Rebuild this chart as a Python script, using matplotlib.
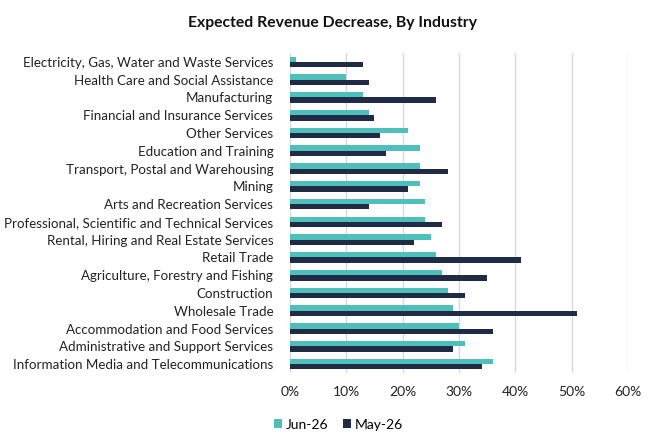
import numpy as np
import matplotlib.pyplot as plt
from matplotlib.ticker import PercentFormatter

plt.rcParams['font.family'] = ['Lato', 'DejaVu Sans']

# categories listed top to bottom as in the chart
industries = [
    'Electricity, Gas, Water and Waste Services',
    'Health Care and Social Assistance',
    'Manufacturing',
    'Financial and Insurance Services',
    'Other Services',
    'Education and Training',
    'Transport, Postal and Warehousing',
    'Mining',
    'Arts and Recreation Services',
    'Professional, Scientific and Technical Services',
    'Rental, Hiring and Real Estate Services',
    'Retail Trade',
    'Agriculture, Forestry and Fishing',
    'Construction',
    'Wholesale Trade',
    'Accommodation and Food Services',
    'Administrative and Support Services',
    'Information Media and Telecommunications',
]
jun26 = [1, 10, 13, 14, 21, 23, 23, 23, 24, 24, 25, 26, 27, 28, 29, 30, 31, 36]
may26 = [13, 14, 26, 15, 16, 17, 28, 21, 14, 27, 22, 41, 35, 31, 51, 36, 29, 34]

teal = '#4FBFBC'
navy = '#202B45'

fig = plt.figure(figsize=(6.58, 4.47), dpi=100)
ax = fig.add_axes([0.4407, 0.1655, 0.5137, 0.716])

n = len(industries)
y = np.arange(n)[::-1]
h = 0.3
ax.barh(y + h / 2, jun26, height=h, color=teal, label='Jun-26', zorder=3)
ax.barh(y - h / 2, may26, height=h, color=navy, label='May-26', zorder=3)

ax.set_yticks(y)
ax.set_yticklabels(industries, fontsize=9.6, color='#222222')
ax.set_ylim(-0.5, n - 0.5)
ax.set_xlim(0, 60)
ax.set_xticks(np.arange(0, 61, 10))
ax.xaxis.set_major_formatter(PercentFormatter(decimals=0))
ax.tick_params(axis='x', length=0, pad=9, labelsize=10, labelcolor='#222222')
ax.tick_params(axis='y', length=0, pad=12)
ax.grid(axis='x', color='#D9D9D9', linewidth=1, zorder=0)
for s in ax.spines.values():
    s.set_visible(False)

fig.suptitle('Expected Revenue Decrease, By Industry', x=0.505, y=0.965,
             fontsize=11.3, fontweight='bold', color='#111111')

ax.legend(loc='upper left', bbox_to_anchor=(-0.065, -0.125), ncol=2, frameon=False,
          fontsize=10, handlelength=0.6, handleheight=0.6, handletextpad=0.3,
          columnspacing=1.0, borderaxespad=0)

fig.savefig('out.png', dpi=100)
